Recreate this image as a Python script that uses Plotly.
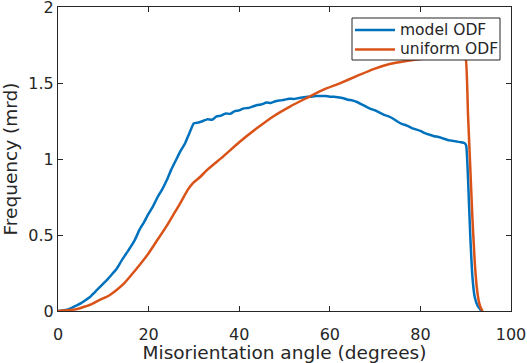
import plotly.graph_objects as go

# ---- data ----
model_x = [0, 1, 2, 3, 4, 5, 6, 7, 8, 9, 10, 11, 12, 13, 14, 15, 16, 17, 18, 19,
           20, 21, 22, 23, 24, 25, 26, 27, 28, 29, 30, 31, 32, 33, 34, 35, 36, 37,
           38, 39, 40, 41, 42, 43, 44, 45, 46, 47, 48, 49, 50, 51, 52, 53, 54, 55,
           56, 57, 58, 59, 60, 61, 62, 63, 64, 65, 66, 67, 68, 69, 70, 71, 72, 73,
           74, 75, 76, 77, 78, 79, 80, 81, 82, 83, 84, 85, 86, 87, 88, 89, 89.7,
           90.1, 90.5, 91.0, 91.5, 92.0, 92.7, 93.5]
model_y = [0, 0.003, 0.008, 0.02, 0.035, 0.05, 0.07, 0.09, 0.12, 0.15, 0.18, 0.21,
           0.245, 0.28, 0.33, 0.375, 0.42, 0.47, 0.535, 0.585, 0.64, 0.69, 0.75,
           0.80, 0.86, 0.93, 0.99, 1.05, 1.10, 1.17, 1.235, 1.24, 1.25, 1.262,
           1.258, 1.28, 1.285, 1.30, 1.297, 1.315, 1.32, 1.333, 1.336, 1.345,
           1.355, 1.36, 1.372, 1.368, 1.38, 1.385, 1.39, 1.397, 1.395, 1.40,
           1.405, 1.41, 1.41, 1.415, 1.415, 1.415, 1.41, 1.41, 1.405, 1.40, 1.39,
           1.385, 1.375, 1.36, 1.345, 1.33, 1.32, 1.305, 1.29, 1.28, 1.265, 1.245,
           1.23, 1.22, 1.205, 1.195, 1.185, 1.17, 1.16, 1.15, 1.145, 1.135, 1.125,
           1.12, 1.115, 1.11, 1.105, 1.09, 0.88, 0.50, 0.22, 0.09, 0.03, 0.0]

uniform_x = [0, 2, 4, 5, 7.3, 9, 11, 13, 14.7, 16, 18.4, 20, 22, 24, 25.7, 27,
             28.7, 30, 31.3, 33, 36.5, 40, 43.8, 47.5, 51.2, 54.8, 58.5, 62.2,
             65.9, 69.5, 73.2, 76.9, 80.6, 84, 87, 89.5, 90.0, 90.5, 91.0, 91.5,
             92.0, 92.5, 93.0, 93.5, 93.8]
uniform_y = [0, 0.005, 0.012, 0.02, 0.043, 0.07, 0.097, 0.14, 0.185, 0.23, 0.317,
             0.38, 0.47, 0.56, 0.645, 0.71, 0.80, 0.848, 0.88, 0.93, 1.017, 1.11,
             1.20, 1.28, 1.345, 1.40, 1.455, 1.498, 1.545, 1.59, 1.625, 1.645,
             1.66, 1.67, 1.672, 1.67, 1.66, 1.30, 0.95, 0.60, 0.32, 0.14, 0.05,
             0.01, 0.0]

x_ticks = [0, 20, 40, 60, 80, 100]
x_tick_text = ["0", "20", "40", "60", "80", "100"]
y_ticks = [0, 0.5, 1, 1.5, 2]
y_tick_text = ["0", "0.5", "1", "1.5", "2"]

series_names = ["model ODF", "uniform ODF"]
series_colors = ["#0072BD", "#D95319"]
x_title = "Misorientation angle (degrees)"
y_title = "Frequency (mrd)"

INK = "#262626"
FONT = "DejaVu Sans"

fig = go.Figure()
fig.add_trace(go.Scatter(x=model_x, y=model_y, mode="lines", name=series_names[0],
                         line=dict(color=series_colors[0], width=2.5,
                                   shape="spline", smoothing=0.4)))
fig.add_trace(go.Scatter(x=uniform_x, y=uniform_y, mode="lines", name=series_names[1],
                         line=dict(color=series_colors[1], width=2.5,
                                   shape="spline", smoothing=0.4)))

axis_common = dict(showgrid=False, zeroline=False, showline=True, linecolor=INK,
                   linewidth=1, mirror="ticks", ticks="inside", ticklen=5,
                   tickcolor=INK, tickwidth=1, automargin=False,
                   ticklabeloverflow="allow",
                   tickfont=dict(family=FONT, size=16, color=INK))

fig.update_xaxes(range=[0, 100], tickvals=x_ticks, ticktext=x_tick_text,
                 ticklabelstandoff=9,
                 title=dict(text=x_title, font=dict(family=FONT, size=18.5, color=INK),
                            standoff=1),
                 **axis_common)
fig.update_yaxes(range=[0, 2], tickvals=y_ticks, ticktext=y_tick_text,
                 title=dict(text=y_title, font=dict(family=FONT, size=18.5, color=INK),
                            standoff=7),
                 **axis_common)

# legend box drawn in paper coordinates (plot area: x 58..511 px, y 7..311 px)
W, H, L, T = 453.0, 304.0, 58.0, 7.0
def px(x):
    return (x - L) / W
def py(y):
    return (T + H - y) / H

shapes = [dict(type="rect", xref="paper", yref="paper",
               x0=px(352), x1=px(500), y0=py(60), y1=py(18),
               line=dict(color=INK, width=1), fillcolor="white", layer="above")]
annotations = []
for i, (nm, col) in enumerate(zip(series_names, series_colors)):
    yc = 30 + i * 19.4
    shapes.append(dict(type="line", xref="paper", yref="paper",
                       x0=px(355), x1=px(395), y0=py(yc), y1=py(yc),
                       line=dict(color=col, width=2.5), layer="above"))
    annotations.append(dict(text=nm, xref="paper", yref="paper", x=px(398),
                            y=py(yc), xanchor="left", yanchor="middle",
                            showarrow=False,
                            font=dict(family=FONT, size=15.5, color=INK)))

fig.update_layout(
    width=527, height=363,
    margin=dict(l=58, r=16, t=7, b=52),
    paper_bgcolor="white", plot_bgcolor="white",
    font=dict(family=FONT, color=INK),
    showlegend=False,
    shapes=shapes, annotations=annotations,
)

fig.write_html("out.html", config={"displayModeBar": False},
               post_script="document.body.style.margin='0';")
